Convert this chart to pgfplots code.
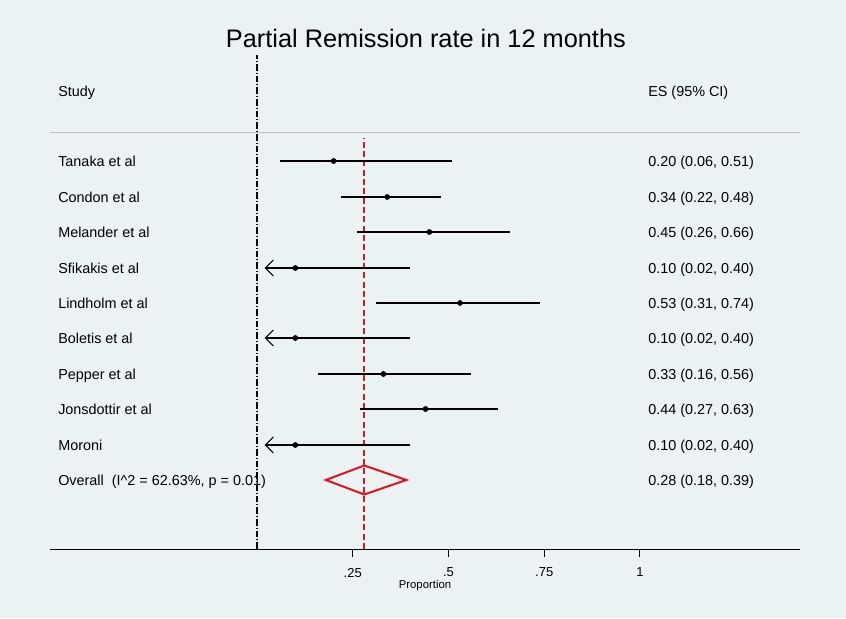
\documentclass[border=0pt]{standalone}
\usepackage{pgfplots}
\usepackage{pgfplotstable}
\pgfplotsset{compat=1.18}
\usepackage{fontspec}
\setmainfont{Liberation Sans}
\usetikzlibrary{arrows.meta}
\definecolor{bg}{RGB}{234,242,243}
\definecolor{refred}{RGB}{195,30,45}
\definecolor{dmred}{RGB}{220,20,30}
\definecolor{sepgray}{RGB}{190,190,190}

\pgfplotstableread{
y es lo hi
457 0.20 0.06 0.51
421 0.34 0.22 0.48
386 0.45 0.26 0.66
315 0.53 0.31 0.74
244 0.33 0.16 0.56
209 0.44 0.27 0.63
}\studies

\pgfplotstableread{
y es lo hi
350 0.10 0.02 0.40
280 0.10 0.02 0.40
173 0.10 0.02 0.40
}\truncated

\begin{document}
\begin{tikzpicture}[x=0.75pt,y=0.75pt]
\fill[bg] (-50,-69) rectangle (796,549);
\begin{axis}[
  at={(0,0)}, anchor=south west,
  scale only axis, width=562.5pt, height=370.5pt,
  xmin=-0.5405, xmax=1.4178, ymin=69, ymax=563,
  clip=false,
  axis x line=bottom, axis y line=none,
  x axis line style={-, black, line width=0.75pt},
  xtick={0.25,0.5,0.75,1},
  xticklabels={.25,.5,.75,1},
  xtick align=outside,
  major tick length=6pt,
  tick style={black, line width=0.75pt},
  xticklabel style={font=\fontsize{9.75}{11}\selectfont, yshift=-4.75pt},
  xlabel={Proportion},
  xlabel style={font=\fontsize{8.5}{10}\selectfont, at={(axis description cs:0.5,0)}, anchor=center, yshift=-27.75pt},
]
% reference lines
\addplot[black, line width=1.5pt, dash pattern=on 5pt off 1.5pt on 0.75pt off 1.5pt] coordinates {(0,69) (0,563)};
\addplot[sepgray, line width=0.75pt] coordinates {(-0.5405,485) (1.4178,485)};
\addplot[refred, line width=1.5pt, dash pattern=on 4.5pt off 2.5pt] coordinates {(0.28,69) (0.28,480)};

% CI lines with point estimates
\addplot[black, draw=none, mark=*, mark size=1.9pt, mark options={line width=0.4pt, solid},
  error bars/.cd, x dir=both, x explicit, error mark=none,
  error bar style={line width=1.5pt, solid}]
  table[x=es, y=y, x error plus expr=\thisrow{hi}-\thisrow{es}, x error minus expr=\thisrow{es}-\thisrow{lo}] {\studies};
\addplot[black, line width=1.5pt, {Straight Barb[length=6pt,width=12pt,line width=0.75pt]}-] coordinates {(0.02,350) (0.40,350)};
\addplot[black, line width=1.5pt, {Straight Barb[length=6pt,width=12pt,line width=0.75pt]}-] coordinates {(0.02,280) (0.40,280)};
\addplot[black, line width=1.5pt, {Straight Barb[length=6pt,width=12pt,line width=0.75pt]}-] coordinates {(0.02,173) (0.40,173)};
\addplot[only marks, mark=*, mark size=1.9pt, mark options={line width=0.4pt}, black] table[x=es, y=y] {\truncated};

% overall diamond
\addplot[dmred, line width=1.5pt, line join=miter] coordinates {(0.18,138) (0.28,152.5) (0.39,138) (0.28,123.5)} -- cycle;

% texts
\node[font=\fontsize{19}{21}\selectfont] at (axis cs:0.441,580) {Partial Remission rate in 12 months};
\begin{scope}[every node/.style={font=\fontsize{10.8}{12}\selectfont, anchor=base west, inner sep=0pt, yshift=-3.85pt}]
\node at (axis cs:-0.5196,527) {Study};
\node at (axis cs:1.0209,527) {ES (95\% CI)};
\node at (axis cs:-0.5196,457) {Tanaka et al};
\node at (axis cs:-0.5196,421) {Condon et al};
\node at (axis cs:-0.5196,386) {Melander et al};
\node at (axis cs:-0.5196,350) {Sfikakis et al};
\node at (axis cs:-0.5196,315) {Lindholm et al};
\node at (axis cs:-0.5196,280) {Boletis et al};
\node at (axis cs:-0.5196,244) {Pepper et al};
\node at (axis cs:-0.5196,209) {Jonsdottir et al};
\node at (axis cs:-0.5196,173) {Moroni};
\node at (axis cs:-0.5196,138) {Overall\ \ (I\textasciicircum 2 = 62.63\%, p = 0.01)};
\node at (axis cs:1.0209,457) {0.20 (0.06, 0.51)};
\node at (axis cs:1.0209,421) {0.34 (0.22, 0.48)};
\node at (axis cs:1.0209,386) {0.45 (0.26, 0.66)};
\node at (axis cs:1.0209,350) {0.10 (0.02, 0.40)};
\node at (axis cs:1.0209,315) {0.53 (0.31, 0.74)};
\node at (axis cs:1.0209,280) {0.10 (0.02, 0.40)};
\node at (axis cs:1.0209,244) {0.33 (0.16, 0.56)};
\node at (axis cs:1.0209,209) {0.44 (0.27, 0.63)};
\node at (axis cs:1.0209,173) {0.10 (0.02, 0.40)};
\node at (axis cs:1.0209,138) {0.28 (0.18, 0.39)};
\end{scope}
\end{axis}
\pgfresetboundingbox
\path (-50,-69) rectangle (796,549);
\end{tikzpicture}
\end{document}
